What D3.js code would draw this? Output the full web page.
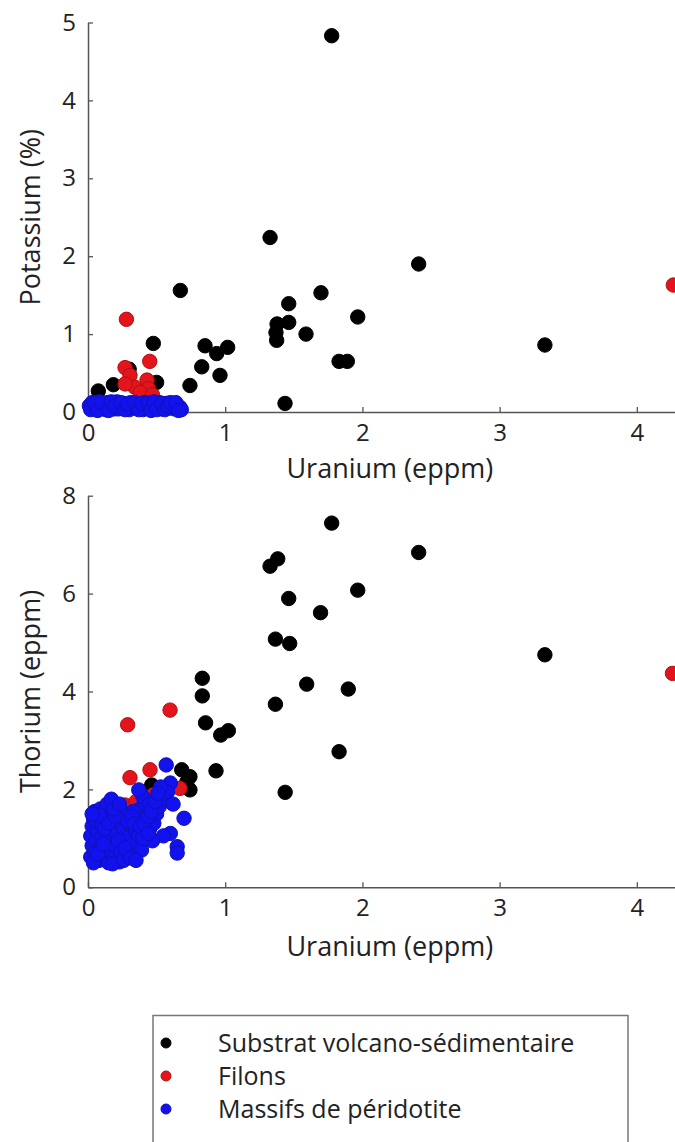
<!DOCTYPE html>
<html><head><meta charset="utf-8">
<script src="https://cdn.jsdelivr.net/npm/d3@7"></script>
<style>
html,body{margin:0;padding:0;background:#fff;}
svg{display:block;}
text{font-family:"Open Sans","Noto Sans",sans-serif;fill:#222;}
</style></head>
<body>
<svg id="c" width="675" height="1142"></svg>
<script>
// ---- Data (Uranium eppm, value) ----
const xTicks = [0, 1, 2, 3, 4];
const kTicks = [0, 1, 2, 3, 4, 5];
const thTicks = [0, 2, 4, 6, 8];
const seriesNames = ["Substrat volcano-sédimentaire", "Filons", "Massifs de péridotite"];
const seriesColors = ["#000000", "#e3141b", "#1212ee"];
const seriesEdges = ["#000000", "#b01010", "#1010b8"];

// Top panel: Potassium (%) vs Uranium
const kBlack = [[1.776,4.83],[1.327,2.24],[0.673,1.56],[1.698,1.53],[1.463,1.39],[1.378,1.13],[1.463,1.15],
  [1.375,0.92],[1.37,1.02],[1.589,1.00],[1.83,0.65],[1.89,0.65],[1.436,0.11],[0.476,0.88],[0.853,0.85],
  [0.938,0.75],[1.018,0.83],[0.829,0.58],[0.962,0.47],[0.743,0.34],[0.50,0.38],[0.185,0.35],[0.075,0.27],
  [0.30,0.55],[2.41,1.90],[1.966,1.22],[3.33,0.86]];
const kRed = [[0.28,1.19],[0.45,0.65],[0.27,0.57],[0.306,0.47],[0.43,0.41],[0.44,0.30],[0.34,0.32],
  [0.27,0.36],[0.38,0.25],[0.47,0.22],[4.266,1.63]];
const kBlue = [[0.01,0.08],[0.03,0.12],[0.04,0.04],[0.06,0.09],[0.08,0.13],[0.09,0.05],[0.11,0.10],
  [0.13,0.03],[0.14,0.12],[0.16,0.07],[0.18,0.10],[0.19,0.04],[0.21,0.13],[0.23,0.08],[0.25,0.05],
  [0.26,0.11],[0.28,0.07],[0.30,0.03],[0.31,0.12],[0.33,0.08],[0.35,0.05],[0.36,0.10],[0.38,0.07],
  [0.40,0.03],[0.41,0.12],[0.43,0.08],[0.45,0.05],[0.47,0.10],[0.49,0.06],[0.51,0.09],[0.53,0.04],
  [0.55,0.08],[0.57,0.11],[0.59,0.05],[0.61,0.08],[0.63,0.04],[0.65,0.09],[0.67,0.06],[0.68,0.03],
  [0.02,0.03],[0.12,0.06],[0.22,0.04],[0.32,0.06],[0.42,0.05],[0.52,0.12],[0.62,0.11],
  [0.05,0.11],[0.07,0.02],[0.10,0.12],[0.15,0.02],[0.17,0.13],[0.20,0.08],[0.24,0.12],[0.27,0.03],
  [0.29,0.10],[0.34,0.12],[0.37,0.03],[0.39,0.11],[0.44,0.12],[0.46,0.02],[0.48,0.13],[0.50,0.03],
  [0.54,0.11],[0.56,0.03],[0.58,0.08],[0.60,0.12],[0.64,0.12],[0.66,0.02]];

// Bottom panel: Thorium (eppm) vs Uranium
const thBlack = [[1.776,7.44],[1.327,6.56],[1.383,6.71],[2.41,6.84],[1.463,5.90],[1.966,6.07],[1.695,5.61],
  [1.366,5.07],[1.47,4.98],[1.594,4.15],[1.897,4.05],[3.33,4.75],[1.366,3.74],[1.83,2.77],[1.437,1.94],
  [0.833,4.27],[0.833,3.91],[0.857,3.36],[0.967,3.11],[1.023,3.20],[0.933,2.38],[0.683,2.40],[0.743,2.26],
  [0.743,1.99],[0.72,2.15],[0.464,2.09]];
const thRed = [[0.289,3.32],[0.598,3.62],[0.306,2.24],[0.452,2.40],[0.67,2.02],[0.476,1.89],[0.43,1.65],
  [0.27,1.68],[0.41,1.55],[0.35,1.75],[4.26,4.37]];
const thBlue = [[0.02,0.62],[0.03,0.85],[0.02,1.05],[0.03,1.25],[0.04,1.40],[0.05,0.72],[0.06,0.95],
  [0.07,1.15],[0.06,1.35],[0.08,0.55],[0.09,0.80],[0.10,1.02],[0.10,1.28],[0.11,1.45],[0.12,0.65],
  [0.13,0.90],[0.14,1.10],[0.13,1.38],[0.15,0.50],[0.16,0.75],[0.17,0.98],[0.18,1.22],[0.16,1.55],
  [0.19,0.60],[0.20,0.85],[0.21,1.08],[0.22,1.35],[0.23,0.52],[0.24,0.72],[0.25,0.95],[0.26,1.18],
  [0.27,1.45],[0.28,0.62],[0.29,0.82],[0.30,1.05],[0.31,1.28],[0.33,0.70],[0.34,0.92],[0.35,1.15],
  [0.36,1.40],[0.05,1.55],[0.09,1.60],[0.14,1.70],[0.17,1.80],[0.21,1.62],[0.25,1.55],
  [0.38,1.60],[0.40,1.85],[0.37,1.99],[0.43,0.97],[0.39,0.76],[0.45,1.20],[0.48,1.31],[0.50,1.50],
  [0.52,1.65],[0.55,1.80],[0.57,2.50],[0.60,2.13],[0.58,1.95],[0.62,1.70],[0.60,1.10],[0.65,0.83],
  [0.65,0.70],[0.70,1.41],[0.55,1.05],[0.47,0.95],[0.42,1.45],[0.53,2.05],[0.45,1.70],[0.33,1.55],
  [0.04,0.50],[0.07,0.68],[0.11,0.88],[0.12,1.20],[0.15,1.32],[0.18,0.48],[0.20,1.45],[0.22,0.95],
  [0.26,0.55],[0.27,0.80],[0.29,1.35],[0.31,0.60],[0.32,1.45],[0.34,1.30],[0.37,1.05],[0.38,1.25],
  [0.40,1.00],[0.41,1.30],[0.44,1.45],[0.46,1.55],[0.49,1.75],[0.51,1.92],[0.35,0.55],[0.08,1.48],
  [0.03,1.50],[0.19,1.60],[0.23,1.70],[0.44,1.10]];

const svg = d3.select("#c");
const x = d3.scaleLinear().domain([0, 4.4]).range([88, 691.7]);

function panel(yDomain, yRange, yTicks, yLabel, data, xLabelY) {
  const y = d3.scaleLinear().domain(yDomain).range(yRange);
  const g = svg.append("g");
  const xa = g.append("g").attr("transform", `translate(0,${yRange[0]})`)
    .call(d3.axisBottom(x).tickValues(xTicks).tickSize(-5).tickPadding(12).tickSizeOuter(0).tickFormat(d3.format("d")));
  const ya = g.append("g").attr("transform", `translate(${x(0)},0)`)
    .call(d3.axisLeft(y).tickValues(yTicks).tickSize(-5).tickPadding(12).tickSizeOuter(0).tickFormat(d3.format("d")));
  [xa, ya].forEach(a => {
    a.select(".domain").attr("stroke", "#555").attr("stroke-width", 1.5);
    a.selectAll(".tick line").attr("stroke", "#555").attr("stroke-width", 1.3);
    a.selectAll(".tick text").attr("font-size", 24).attr("fill", "#222")
      .attr("font-family", '"Open Sans","Noto Sans",sans-serif');
  });
  g.append("text").attr("x", (x.range()[0] + x.range()[1]) / 2).attr("y", xLabelY)
    .attr("text-anchor", "middle").attr("font-size", 27).text("Uranium (eppm)");
  g.append("text").attr("transform", `translate(40,${(yRange[0] + yRange[1]) / 2}) rotate(-90)`)
    .attr("text-anchor", "middle").attr("font-size", 27).text(yLabel);
  data.forEach((pts, i) => {
    g.append("g").selectAll("circle").data(pts).join("circle")
      .attr("cx", d => x(d[0])).attr("cy", d => y(d[1])).attr("r", 7.2)
      .attr("fill", seriesColors[i]).attr("stroke", seriesEdges[i]).attr("stroke-width", 1);
  });
}

panel([0, 5], [412, 22.5], kTicks, "Potassium (%)", [kBlack, kRed, kBlue], 478);
panel([0, 8], [887.3, 495.7], thTicks, "Thorium (eppm)", [thBlack, thRed, thBlue], 956);

// Legend
const lg = svg.append("g");
lg.append("rect").attr("x", 153).attr("y", 1015.5).attr("width", 475).attr("height", 150)
  .attr("fill", "#fff").attr("stroke", "#777").attr("stroke-width", 1.5);
const rowY = [1043, 1076, 1109];
seriesNames.forEach((n, i) => {
  lg.append("circle").attr("cx", 166).attr("cy", rowY[i]).attr("r", 5)
    .attr("fill", seriesColors[i]).attr("stroke", seriesEdges[i]).attr("stroke-width", 1);
  lg.append("text").attr("x", 218).attr("y", rowY[i]).attr("dy", "0.35em")
    .attr("font-size", 25).text(n);
});
</script>
</body></html>
